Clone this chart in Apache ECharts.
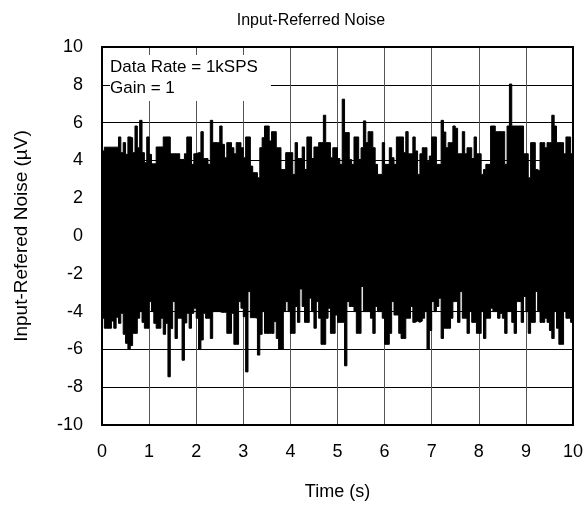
<!DOCTYPE html>
<html>
<head>
<meta charset="utf-8">
<script src="https://cdn.jsdelivr.net/npm/echarts@6/dist/echarts.min.js"></script>
<style>html,body{margin:0;padding:0;background:#fff;}#c{width:586px;height:509px;}</style>
</head>
<body>
<div id="c"></div>
<script>
// Envelope of the noise trace, read per 0.05 s column (µV)
const DT = 0.05;
const upper = [
4.5,4.7,4.7,4.7,4.7,4.7,4.7,5.24,4.41,4.94,
4.32,5.24,5.2,4.41,5.82,4.67,6.12,4.41,3.88,5.24,
4.32,3.82,3.82,4.71,4.71,4.71,5.24,5.24,5.24,4.35,
4.35,4.35,4.35,4.05,4.05,4.35,5.24,5.24,3.79,4.35,
4.41,4.41,5.52,4.1,4.1,3.79,6.12,4.94,4.94,4.94,
5.82,4.85,4.14,4.94,4.94,4.67,4.35,4.94,4.94,4.67,
4.14,5.24,5.24,3.7,3.35,3.35,3.08,4.67,5.2,5.82,
5.82,5.03,5.52,5.52,4.67,4.67,3.52,3.52,4.41,4.41,
4.41,3.26,4.94,4.1,4.1,4.71,3.52,5.24,5.24,4.1,
4.71,4.71,4.94,4.94,6.39,4.94,4.94,4.14,4.67,4.67,
4.1,3.79,7.24,5.47,5.47,4.05,3.79,5.24,5.24,4.05,
4.67,6.09,4.94,5.52,5.52,4.67,3.79,3.26,3.26,4.94,
3.79,3.79,4.67,4.14,3.79,5.24,5.24,5.24,4.41,5.52,
4.35,4.35,5.24,4.5,3.26,4.35,4.67,4.67,3.96,4.23,
5.24,5.24,3.79,3.79,6.12,5.5,4.67,4.94,4.94,5.82,
5.7,4.35,4.35,5.52,4.35,4.67,4.67,4.1,5.24,4.35,
4.35,3.26,3.52,3.79,3.79,5.82,5.82,5.52,5.52,5.52,
5.52,3.79,5.82,8.04,5.82,5.82,5.82,5.82,5.82,4.35,
4.35,3.08,4.94,4.94,3.52,3.43,4.94,4.94,4.67,4.94,
4.94,6.39,5.82,4.94,4.94,4.94,4.35,5.24,5.24,4.35
];
const lower = [
-4.35,-4.88,-4.88,-4.88,-4.5,-4.88,-4.3,-4.62,-4.09,-5.2,
-5.68,-6.0,-5.8,-5.15,-5.15,-4.35,-4.0,-4.57,-4.88,-4.88,
-3.47,-4.0,-4.62,-4.88,-4.88,-4.35,-5.2,-4.62,-7.45,-4.9,
-3.47,-5.42,-4.35,-4.35,-6.57,-4.6,-4.09,-4.88,-4.09,-3.82,
-4.35,-6.0,-5.5,-4.09,-4.35,-4.35,-5.42,-4.0,-4.0,-4.0,
-4.04,-4.04,-4.04,-5.15,-5.15,-4.09,-5.73,-5.73,-3.47,-3.82,
-4.27,-7.19,-2.94,-4.32,-4.32,-4.35,-6.3,-5.2,-4.0,-5.15,
-5.15,-5.15,-5.15,-4.53,-5.42,-6.0,-6.0,-4.0,-3.47,-4.0,
-5.15,-5.15,-3.73,-4.57,-2.8,-3.73,-4.57,-4.57,-3.29,-4.0,
-4.88,-3.47,-4.35,-5.73,-5.73,-4.35,-3.82,-5.15,-5.15,-4.18,
-4.57,-4.57,-4.57,-6.87,-3.47,-3.73,-3.73,-4.0,-5.15,-5.15,
-2.67,-4.0,-4.0,-4.0,-4.35,-5.15,-3.73,-4.0,-4.0,-4.35,
-5.73,-5.73,-5.15,-3.47,-4.18,-4.18,-5.15,-5.42,-5.42,-4.35,
-4.35,-3.73,-4.57,-4.5,-4.57,-4.5,-4.35,-4.0,-6.0,-5.0,
-3.47,-4.0,-3.73,-3.29,-5.42,-4.88,-4.88,-4.88,-4.35,-3.47,
-3.47,-4.57,-2.94,-4.35,-4.35,-5.15,-4.0,-4.57,-4.57,-5.15,
-5.15,-4.0,-5.42,-4.35,-4.35,-3.82,-4.0,-4.0,-4.35,-4.09,
-4.35,-5.15,-4.0,-4.0,-4.57,-5.15,-3.47,-3.47,-4.57,-3.2,
-4.0,-5.15,-4.57,-4.57,-2.94,-4.0,-4.57,-4.57,-4.35,-4.57,
-5.0,-5.42,-4.0,-4.88,-5.73,-5.73,-4.0,-4.35,-4.35,-4.57
];
const xTicks = [0,1,2,3,4,5,6,7,8,9,10];
const yTicks = [-10,-8,-6,-4,-2,0,2,4,6,8,10];
const titleText = 'Input-Referred Noise';
const noteText = 'Data Rate = 1kSPS\nGain = 1';
const xName = 'Time (s)';
const yName = 'Input-Refered Noise (µV)';

function toSeries(arr){
  const d = arr.map((v,i)=>[+(i*DT).toFixed(3), v]);
  d.push([10, arr[arr.length-1]]);
  return d;
}
const FONT = 'Arial, "Liberation Sans", sans-serif';
const chart = echarts.init(document.getElementById('c'), null, {renderer:'canvas'});
const bandSeries = (name, arr) => ({
  name, type:'line', step:'end', data: toSeries(arr), symbol:'none', showSymbol:false,
  lineStyle:{color:'#000', width:1}, areaStyle:{color:'#000', opacity:1},
  animation:false, silent:true, z:2
});
chart.setOption({
  animation:false,
  backgroundColor:'#fff',
  title:[
    {text:titleText, left:306, top:8, textAlign:'center',
     textStyle:{fontFamily:FONT, fontSize:16, fontWeight:'normal', color:'#000'}},
    {text:noteText, left:110, top:55, backgroundColor:'#fff', padding:[2,13,2,0],
     textStyle:{fontFamily:FONT, fontSize:17, fontWeight:'normal', color:'#000', lineHeight:21}, z:10}
  ],
  grid:{left:102, right:13, top:47, bottom:84, show:true, borderColor:'#000', borderWidth:2, backgroundColor:'transparent', z:5},
  xAxis:{type:'value', min:xTicks[0], max:xTicks[xTicks.length-1], interval:1,
    name:xName, nameLocation:'middle', nameGap:58,
    nameTextStyle:{fontFamily:FONT, fontSize:18, color:'#000'},
    axisLine:{show:false}, axisTick:{show:false},
    axisLabel:{fontFamily:FONT, fontSize:18, color:'#000', margin:18},
    splitLine:{show:true, lineStyle:{color:'#555', width:1}}},
  yAxis:{type:'value', min:yTicks[0], max:yTicks[yTicks.length-1], interval:2,
    name:yName, nameLocation:'middle', nameGap:71,
    nameTextStyle:{fontFamily:FONT, fontSize:19, color:'#000'},
    axisLine:{show:false}, axisTick:{show:false},
    axisLabel:{fontFamily:FONT, fontSize:18, color:'#000', margin:19},
    splitLine:{show:true, lineStyle:{color:'#000', width:1}}},
  series:[bandSeries('upper', upper), bandSeries('lower', lower)]
});
</script>
</body>
</html>
